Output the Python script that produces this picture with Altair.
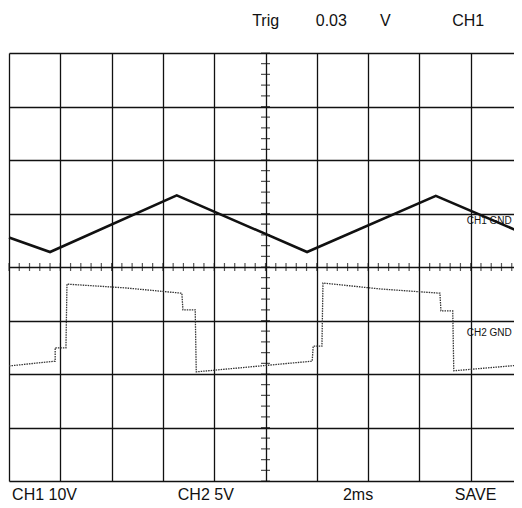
import altair as alt
import pandas as pd

# Oscilloscope screen: x in divisions (2 ms/div), y in divisions (-4..4)
ch1_x = [0.0, 0.80, 3.27, 5.81, 8.32, 10.0]
ch1_y = [0.55, 0.28, 1.34, 0.28, 1.33, 0.64]

ch2_x = [0.0, 0.90, 0.90, 1.11, 1.13, 2.26, 3.37, 3.39, 3.63, 3.65,
         5.91, 5.93, 6.10, 6.12, 7.23, 8.40, 8.42, 8.65, 8.67, 10.0]
ch2_y = [-1.85, -1.76, -1.51, -1.51, -0.32, -0.39, -0.49, -0.80, -0.80, -1.96,
         -1.76, -1.48, -1.48, -0.30, -0.41, -0.49, -0.82, -0.82, -1.94, -1.83]

grid_x = list(range(0, 11))
grid_y = list(range(-4, 5))
minor_x = [i / 5 for i in range(0, 51)]
minor_y = [i / 5 for i in range(-20, 21)]

top_labels = ["Trig", "0.03", "V", "CH1"]
top_x = [4.74, 5.98, 7.23, 8.64]
top_y = [4.50, 4.50, 4.50, 4.50]

bottom_labels = ["CH1 10V", "CH2 5V", "2ms", "SAVE"]
bottom_x = [0.06, 3.29, 6.51, 8.69]
bottom_y = [-4.36, -4.36, -4.36, -4.36]

gnd_labels = ["CH1 GND", "CH2 GND"]
gnd_x = [9.80, 9.80]
gnd_y = [0.80, -1.29]

# the screen is wider than the window: the visible part ends just before x = 10 div
visible_x = 9.844
xs = alt.Scale(domain=[0, visible_x], nice=False, zero=False)
ys = alt.Scale(domain=[-4, 4], nice=False, zero=False)

ch1 = pd.DataFrame({"x": ch1_x, "y": ch1_y, "i": range(len(ch1_x))})
ch2 = pd.DataFrame({"x": ch2_x, "y": ch2_y, "i": range(len(ch2_x))})

xaxis = alt.Axis(values=grid_x, grid=True, labels=False, ticks=False, domain=False,
                 title=None, gridColor="#111", gridWidth=1.3, gridOpacity=1)
yaxis = alt.Axis(values=grid_y, grid=True, labels=False, ticks=False, domain=False,
                 title=None, gridColor="#111", gridWidth=1.3, gridOpacity=1)

base = alt.Chart(pd.DataFrame({"x": [0], "y": [0]})).mark_point(opacity=0).encode(
    x=alt.X("x:Q", scale=xs, axis=xaxis),
    y=alt.Y("y:Q", scale=ys, axis=yaxis),
)

hticks = alt.Chart(pd.DataFrame({"x": minor_x})).mark_tick(
    orient="vertical", size=8, thickness=1.2, color="#111"
).encode(x=alt.X("x:Q", scale=xs), y=alt.datum(0, scale=ys))

vticks = alt.Chart(pd.DataFrame({"y": minor_y})).mark_tick(
    orient="horizontal", size=9, thickness=1.2, color="#111"
).encode(y=alt.Y("y:Q", scale=ys), x=alt.datum(5, scale=xs))

line1 = alt.Chart(ch1).mark_line(color="#111", strokeWidth=2.6).encode(
    x=alt.X("x:Q", scale=xs), y=alt.Y("y:Q", scale=ys), order="i:Q"
)

line2 = alt.Chart(ch2).mark_line(color="#333", strokeWidth=1.3, strokeDash=[1.5, 1]).encode(
    x=alt.X("x:Q", scale=xs), y=alt.Y("y:Q", scale=ys), order="i:Q"
)

def labels(texts, lx, ly, size, align="left"):
    df = pd.DataFrame({"t": texts, "x": lx, "y": ly})
    return alt.Chart(df).mark_text(
        align=align, baseline="alphabetic", fontSize=size,
        font="Liberation Sans", color="#111"
    ).encode(x=alt.X("x:Q", scale=xs), y=alt.Y("y:Q", scale=ys), text="t:N")

chart = alt.layer(
    base, hticks, vticks, line1, line2,
    labels(top_labels, top_x, top_y, 16),
    labels(bottom_labels, bottom_x, bottom_y, 16),
    labels(gnd_labels, gnd_x, gnd_y, 10, align="right"),
).properties(
    width=505, height=428,
    padding={"left": 1, "top": 45, "right": 0, "bottom": 22},
    autosize=alt.AutoSizeParams(type="none"),
    background="white",
).configure_view(stroke="transparent", strokeWidth=0)

chart.save("out.html", embed_options={"renderer": "svg", "actions": False})
